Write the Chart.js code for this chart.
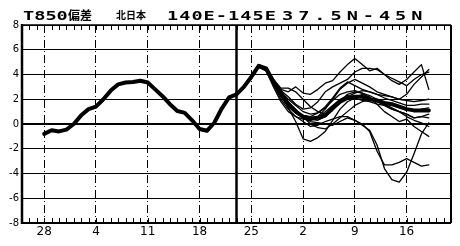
<!DOCTYPE html>
<html>
<head>
<meta charset="utf-8">
<script src="https://cdn.jsdelivr.net/npm/chart.js@4.4.1/dist/chart.umd.min.js"></script>
<style>
  html, body { margin: 0; padding: 0; background: #fff; }
  #wrap { position: relative; width: 460px; height: 246px; overflow: hidden; }
  #chart { position: absolute; left: 0; top: 0; }
  .ttl {
    position: absolute; top: 10px; color: #000; font-weight: bold;
    white-space: nowrap; line-height: 1; transform-origin: 0 0;
  }
  .mono { font-family: "DejaVu Sans Mono", monospace; font-size: 12px; transform: scaleX(1.55); }
  .cjk  { font-family: "Noto Sans CJK JP", sans-serif; }
</style>
</head>
<body>
<div id="wrap">
  <canvas id="chart" width="460" height="246"></canvas>
  <span class="ttl mono" style="left:23px;">T850</span>
  <span class="ttl cjk" style="left:68px; top:9px; font-size:12px;">偏差</span>
  <span class="ttl cjk" style="left:116px; top:10px; font-size:10px;">北日本</span>
  <span class="ttl mono" style="left:167px; letter-spacing:0.65px;">140E-145E</span>
  <span class="ttl mono" style="left:282px; letter-spacing:3.2px;">37.5N-45N</span>
</div>
<script>
/* 横軸は「28日」を 0 とした通算日 */
var X_MIN = -3;
var X_MAX = 55;
var X_TICK_DAYS   = [0, 7, 14, 21, 28, 35, 42, 49];
var X_TICK_LABELS = ['28', '4', '11', '18', '25', '2', '9', '16'];
var FCST_START = 26;

/* 解析値（太線） */
var OBS_DAYS = [0, 1, 2, 3, 4, 5, 6, 7, 8, 9, 10, 11, 12, 13, 14, 15, 16, 17, 18, 19, 20, 21, 22, 23, 24, 25, 26];
var OBS = [-0.8, -0.5, -0.6, -0.45, 0.0, 0.7, 1.2, 1.4, 2.0, 2.7, 3.2, 3.35, 3.4, 3.5, 3.35, 2.8, 2.25, 1.6, 1.05, 0.9, 0.3, -0.4, -0.55, 0.1, 1.25, 2.15, 2.4];

/* 予報期間 */
var FCST_DAYS = [26, 27, 28, 29, 30, 31, 32, 33, 34, 35, 36, 37, 38, 39, 40, 41, 42, 43, 44, 45, 46, 47, 48, 49, 50, 51, 52];
var ENS_MEAN = [2.4, 3.0, 3.8, 4.7, 4.5, 3.4, 2.5, 1.6, 1.0, 0.6, 0.45, 0.5, 0.7, 1.3, 1.8, 2.1, 2.2, 2.2, 2.0, 1.9, 1.7, 1.6, 1.4, 1.2, 1.1, 1.1, 1.1];

/* アンサンブルメンバー（細線） */
var MEMBER_1  = [2.4, 3.1, 3.9, 4.8, 4.5, 3.6, 2.8, 2.6, 3.0, 2.5, 2.4, 2.8, 3.3, 3.5, 4.2, 4.8, 5.3, 4.8, 4.3, 4.5, 4.0, 3.5, 3.2, 3.6, 4.2, 4.8, 2.8];
var MEMBER_2  = [2.4, 3.0, 3.7, 4.6, 4.3, 3.2, 2.2, 1.4, 0.9, 0.5, 0.3, 0.6, 1.2, 2.0, 2.8, 3.3, 3.6, 3.3, 3.0, 2.6, 2.4, 2.2, 2.0, 2.4, 3.2, 3.8, 4.4];
var MEMBER_3  = [2.4, 3.0, 3.8, 4.7, 4.4, 3.3, 2.3, 1.5, 1.0, 0.5, 0.2, 0.1, 0.0, -0.1, 0.2, 0.5, 0.3, 0.0, -0.6, -2.2, -3.3, -3.3, -3.1, -2.8, -3.1, -3.4, -3.3];
var MEMBER_4  = [2.4, 2.9, 3.8, 4.6, 4.3, 3.2, 2.0, 1.2, 0.6, 0.2, -0.2, -0.1, 0.2, 0.4, 0.6, 0.6, 0.3, -0.1, -0.5, -1.7, -3.6, -4.5, -4.7, -3.9, -2.4, -0.8, 0.1];
var MEMBER_5  = [2.4, 3.1, 3.9, 4.7, 4.5, 3.6, 2.6, 1.3, 0.2, -1.2, -1.4, -1.1, -0.6, 0.3, 1.2, 1.8, 2.1, 2.4, 2.2, 1.6, 1.0, 0.6, 0.2, 0.4, -0.2, -0.6, -1.0];
var MEMBER_6  = [2.4, 3.0, 3.8, 4.7, 4.4, 3.3, 2.4, 1.8, 1.2, 0.6, 0.0, -0.3, -0.4, 0.0, 0.5, 1.0, 1.5, 1.8, 2.0, 1.8, 1.5, 1.2, 1.0, 0.6, 0.3, 0.1, -0.2];
var MEMBER_7  = [2.4, 3.1, 3.9, 4.8, 4.5, 3.6, 2.9, 2.9, 2.6, 2.0, 1.4, 1.0, 0.8, 1.2, 1.8, 2.4, 2.6, 2.5, 2.3, 2.0, 1.6, 1.3, 1.0, 0.8, 0.5, 0.6, 0.5];
var MEMBER_8  = [2.4, 3.0, 3.7, 4.6, 4.3, 3.4, 2.6, 2.0, 1.5, 1.0, 0.8, 0.9, 1.3, 1.9, 2.4, 2.6, 2.7, 2.5, 2.1, 1.9, 1.7, 1.5, 1.4, 1.2, 1.0, 1.2, 1.3];
var MEMBER_9  = [2.4, 3.0, 3.8, 4.7, 4.3, 3.0, 1.8, 1.0, 0.6, 0.4, 0.3, 0.5, 1.0, 1.5, 2.0, 2.3, 2.1, 1.9, 1.8, 1.6, 1.5, 1.2, 1.0, 0.8, 0.5, 0.6, 0.8];
var MEMBER_10 = [2.4, 3.1, 3.9, 4.8, 4.5, 3.5, 2.7, 2.2, 1.6, 1.2, 1.3, 1.8, 2.6, 3.0, 3.3, 3.6, 4.2, 4.5, 4.5, 4.4, 4.0, 3.7, 3.4, 3.1, 3.6, 4.0, 4.2];
var MEMBER_11 = [2.4, 3.0, 3.8, 4.7, 4.4, 3.4, 2.4, 1.6, 1.0, 0.7, 0.6, 0.9, 1.4, 2.1, 2.9, 3.4, 3.1, 2.8, 2.6, 2.4, 2.1, 1.9, 1.7, 1.5, 1.5, 1.6, 1.6];
var MEMBER_12 = [2.4, 3.0, 3.8, 4.7, 4.4, 3.3, 2.3, 1.4, 0.9, 0.6, 0.4, 0.3, 0.6, 1.1, 1.7, 2.2, 2.5, 2.7, 2.6, 2.4, 2.3, 2.2, 2.0, 1.9, 1.8, 1.9, 2.0];

var MEMBERS = [MEMBER_1, MEMBER_2, MEMBER_3, MEMBER_4, MEMBER_5, MEMBER_6,
               MEMBER_7, MEMBER_8, MEMBER_9, MEMBER_10, MEMBER_11, MEMBER_12];

function toPoints(days, values) {
  return values.map(function (v, i) { return { x: days[i], y: v }; });
}

var datasets = MEMBERS.map(function (m) {
  return { data: toPoints(FCST_DAYS, m), borderColor: '#000', borderWidth: 1.3 };
});
datasets.push({ data: toPoints(FCST_DAYS, ENS_MEAN), borderColor: '#000', borderWidth: 4 });
datasets.push({ data: toPoints(OBS_DAYS, OBS), borderColor: '#000', borderWidth: 4 });

/* 枠線・日目盛・予報開始線 */
var frameAndTicks = {
  id: 'frameAndTicks',
  afterDatasetsDraw: function (chart) {
    var ctx = chart.ctx;
    var a   = chart.chartArea;
    var xs  = chart.scales.x;
    ctx.save();
    ctx.strokeStyle = '#000';

    ctx.lineWidth = 1;
    ctx.beginPath();
    for (var d = X_MIN + 1; d < X_MAX; d++) {
      var px = Math.round(xs.getPixelForValue(d)) + 0.5;
      ctx.moveTo(px, a.top);    ctx.lineTo(px, a.top + 5);
      ctx.moveTo(px, a.bottom); ctx.lineTo(px, a.bottom - 5);
    }
    ctx.stroke();

    var fx = xs.getPixelForValue(FCST_START);
    ctx.lineWidth = 2.5;
    ctx.beginPath();
    ctx.moveTo(fx, a.top); ctx.lineTo(fx, a.bottom);
    ctx.stroke();

    ctx.lineWidth = 1.5;
    ctx.beginPath();
    ctx.moveTo(a.left, a.top); ctx.lineTo(a.right, a.top);
    ctx.stroke();
    ctx.lineWidth = 2;
    ctx.beginPath();
    ctx.moveTo(a.right, a.top); ctx.lineTo(a.right, a.bottom);
    ctx.moveTo(a.left, a.bottom); ctx.lineTo(a.right, a.bottom);
    ctx.stroke();
    ctx.lineWidth = 2.5;
    ctx.beginPath();
    ctx.moveTo(a.left, a.top - 1); ctx.lineTo(a.left, a.bottom + 1);
    ctx.stroke();
    ctx.restore();
  }
};

new Chart(document.getElementById('chart'), {
  type: 'line',
  data: { datasets: datasets },
  options: {
    responsive: false,
    animation:  false,
    layout: { padding: { top: 25, right: 9, left: 0, bottom: 0 } },
    elements: {
      point: { radius: 0 },
      line:  { tension: 0, borderJoinStyle: 'round', borderCapStyle: 'round' },
    },
    plugins: {
      legend:  { display: false },
      tooltip: { enabled: false },
    },
    scales: {
      x: {
        type: 'linear',
        min:  X_MIN,
        max:  X_MAX,
        afterBuildTicks: function (scale) {
          scale.ticks = X_TICK_DAYS.map(function (v) { return { value: v }; });
        },
        afterFit: function (scale) { scale.height = 23; },
        ticks: {
          autoSkip: false,
          maxRotation: 0,
          padding: 2,
          color: '#000',
          font: { family: 'DejaVu Sans', size: 12 },
          callback: function (val) { return X_TICK_LABELS[X_TICK_DAYS.indexOf(val)]; },
        },
        grid:   { color: '#000', lineWidth: 1, drawTicks: false },
        border: { display: false, dash: [8, 3, 1, 3] },
      },
      y: {
        min: -8,
        max: 8,
        afterFit: function (scale) { scale.width = 22; },
        ticks: {
          stepSize: 2,
          padding: 3,
          color: '#000',
          font: { family: 'DejaVu Sans', size: 10 },
        },
        grid: {
          color: '#000',
          drawTicks: false,
          lineWidth: function (c) { return c.tick && c.tick.value === 0 ? 2 : 1; },
        },
        border: { display: false },
      },
    },
  },
  plugins: [frameAndTicks],
});
</script>
</body>
</html>
